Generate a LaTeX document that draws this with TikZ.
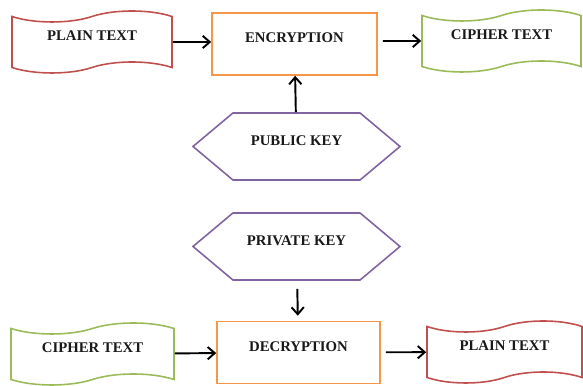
\documentclass[tikz,border=0pt]{standalone}
\usepackage{fontspec}
\setmainfont{Liberation Serif}
\usetikzlibrary{shapes.symbols,arrows.meta}
\definecolor{plainred}{HTML}{C0504D}
\definecolor{cipgreen}{HTML}{9BBB59}
\definecolor{cryorange}{HTML}{F79646}
\definecolor{keypurple}{HTML}{8064A2}
\tikzset{
    box/.style={draw, line width=0.9pt, minimum width=3.3cm, minimum height=1.24cm,
        inner sep=0pt, text=black!90,
        font=\bfseries\fontsize{8.4}{10}\selectfont, text height=0.2cm, text depth=0.24cm},
    tapebox/.style={box, shape=tape, tape bend height=0.22cm, minimum width=3.2cm},
    keybox/.style={box, shape=signal, signal to=west and east, signal pointer angle=80,
        draw=keypurple, minimum width=4.14cm, minimum height=1.34cm},
    cryptbox/.style={box, draw=cryorange},
}
\begin{document}
\begin{tikzpicture}[>={Straight Barb[length=4pt,width=7pt]}]
        \useasboundingbox (0,0) rectangle (11.66,7.72);
        % Cifratura
        \node [tapebox, draw=plainred] (plainA) at (1.84,6.88) {PLAIN TEXT};
        \node [cryptbox] (encrypt) at (5.89,6.84) {ENCRYPTION};
        \node [tapebox, draw=cipgreen, minimum width=3.18cm] (cipherA) at (10.03,6.9) {CIPHER TEXT};
        \node [keybox] (pubkey) at (5.93,4.79) {PUBLIC KEY};
        % Decifratura
        \node [keybox] (privkey) at (5.93,2.79) {PRIVATE KEY};
        \node [tapebox, draw=cipgreen, minimum width=3.26cm] (cipherB) at (1.85,0.64) {CIPHER TEXT};
        \node [cryptbox, minimum width=3.26cm] (decrypt) at (5.97,0.67) {DECRYPTION};
        \node [tapebox, draw=plainred, minimum width=3.1cm] (plainB) at (10.09,0.68) {PLAIN TEXT};
        % Frecce
        \draw [->,line width=1.1pt] (plainA) -- (plainA -| encrypt.west);
        \draw [->,line width=1.1pt, shorten <=0.1cm] (encrypt.east |- cipherA) -- (cipherA);
        \draw [->,line width=1.1pt] (pubkey) -- (encrypt);
        \draw [->,line width=1.1pt, shorten <=0.16cm, shorten >=0.1cm] (privkey) -- (decrypt);
        \draw [->,line width=1.1pt] (cipherB) -- (decrypt);
        \draw [->,line width=1.1pt, shorten <=0.1cm] (decrypt) -- (plainB);
    \end{tikzpicture}
\end{document}
